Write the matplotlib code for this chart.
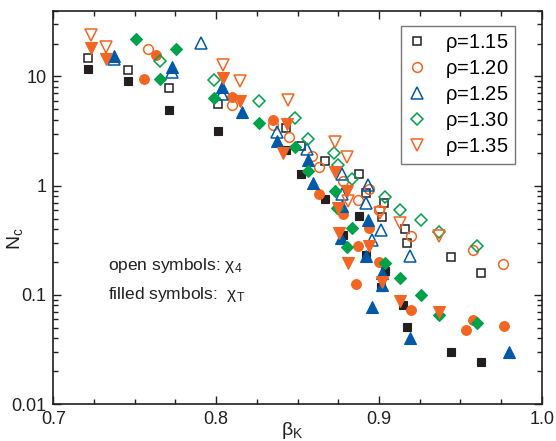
import numpy as np
import matplotlib
matplotlib.use("Agg")
import matplotlib.pyplot as plt
from matplotlib.ticker import MultipleLocator, LogLocator, NullFormatter

plt.rcParams['font.family'] = ['Liberation Sans', 'DejaVu Sans']
plt.rcParams['mathtext.default'] = 'regular'

# rho = 1.15 (black squares)
x115_open = [0.721, 0.746, 0.771, 0.801, 0.843, 0.852, 0.867, 0.888, 0.892, 0.902, 0.903, 0.916, 0.917, 0.944, 0.963]
y115_open = [14.9, 11.5, 7.9, 5.6, 3.4, 2.3, 1.67, 1.28, 0.85, 0.52, 0.70, 0.40, 0.30, 0.22, 0.16]
x115_fill = [0.721, 0.746, 0.771, 0.801, 0.843, 0.852, 0.867, 0.878, 0.888, 0.892, 0.904, 0.901, 0.915, 0.917, 0.944, 0.963]
y115_fill = [11.6, 9.06, 4.98, 3.15, 2.14, 1.28, 0.755, 0.355, 0.523, 0.233, 0.166, 0.117, 0.080, 0.051, 0.030, 0.024]

# rho = 1.20 (orange circles)
x120_open = [0.758, 0.810, 0.835, 0.845, 0.859, 0.863, 0.878, 0.887, 0.894, 0.900, 0.920, 0.958, 0.976]
y120_open = [17.7, 5.53, 3.63, 2.77, 1.86, 1.48, 1.11, 0.744, 0.938, 0.594, 0.348, 0.255, 0.191]
x120_fill = [0.756, 0.763, 0.810, 0.835, 0.863, 0.878, 0.887, 0.894, 0.900, 0.886, 0.920, 0.9535, 0.958, 0.977]
y120_fill = [9.38, 15.6, 6.46, 3.95, 0.83, 0.55, 0.28, 0.41, 0.20, 0.125, 0.073, 0.048, 0.059, 0.052]

# rho = 1.25 (blue up triangles)
x125_open = [0.7375, 0.7727, 0.791, 0.8034, 0.8372, 0.856, 0.8775, 0.8775, 0.8935, 0.892, 0.901, 0.896, 0.919]
y125_open = [14.5, 11.1, 20.4, 6.93, 3.08, 2.17, 1.28, 0.845, 1.02, 0.70, 0.395, 0.315, 0.228]
x125_fill = [0.7375, 0.7727, 0.8034, 0.8157, 0.8372, 0.8566, 0.8597, 0.8775, 0.8935, 0.877, 0.892, 0.902, 0.902, 0.896, 0.919, 0.980]
y125_fill = [15.4, 12.1, 7.98, 4.74, 2.55, 1.70, 1.06, 0.656, 0.488, 0.331, 0.225, 0.158, 0.124, 0.077, 0.040, 0.030]

# rho = 1.30 (green diamonds)
x130_open = [0.7655, 0.7987, 0.8265, 0.8485, 0.8566, 0.8726, 0.8751, 0.8837, 0.9037, 0.913, 0.9257, 0.9371, 0.960]
y130_open = [13.8, 9.19, 5.94, 4.12, 2.68, 2.0, 1.56, 1.15, 0.787, 0.60, 0.488, 0.373, 0.282]
x130_fill = [0.7509, 0.7655, 0.7754, 0.7987, 0.8265, 0.8485, 0.8566, 0.873, 0.874, 0.8837, 0.8802, 0.9038, 0.913, 0.9257, 0.9371, 0.960]
y130_fill = [22.2, 9.38, 17.9, 6.29, 3.71, 2.28, 1.37, 0.887, 0.63, 0.409, 0.277, 0.195, 0.142, 0.100, 0.0656, 0.0557]

# rho = 1.35 (orange down triangles)
x135_open = [0.7232, 0.7324, 0.804, 0.8147, 0.8444, 0.873, 0.8806, 0.8812, 0.9007, 0.913, 0.9371]
y135_open = [23.9, 18.6, 12.6, 9.06, 6.06, 2.50, 1.83, 0.728, 0.562, 0.454, 0.348]
x135_fill = [0.7232, 0.7324, 0.804, 0.8147, 0.8434, 0.8409, 0.873, 0.8802, 0.8751, 0.8757, 0.8941, 0.8812, 0.9017, 0.913, 0.9371]
y135_fill = [18.3, 14.5, 9.73, 5.94, 3.68, 2.0, 1.33, 0.887, 0.624, 0.368, 0.282, 0.195, 0.130, 0.0887, 0.0703]

labels = [r'$\rho$=1.15', r'$\rho$=1.20', r'$\rho$=1.25', r'$\rho$=1.30', r'$\rho$=1.35']

black = '#231f20'
orange = '#f26522'
blue = '#0059a8'
green = '#00a14b'

series = [
    (x115_open, y115_open, x115_fill, y115_fill, 's', 5.8, black),
    (x120_open, y120_open, x120_fill, y120_fill, 'o', 7.0, orange),
    (x125_open, y125_open, x125_fill, y125_fill, '^', 8.2, blue),
    (x130_open, y130_open, x130_fill, y130_fill, 'D', 6.3, green),
    (x135_open, y135_open, x135_fill, y135_fill, 'v', 8.2, orange),
]

fig = plt.figure(figsize=(5.56, 4.41), dpi=100)
ax = fig.add_axes([0.0959, 0.0839, 0.8784, 0.8918])

handles = []
for (xo, yo, xf, yf, m, ms, c), lab in zip(series, labels):
    ax.plot(xf, yf, ls='none', marker=m, ms=ms, mfc=c, mec=c, mew=0.8)
    h, = ax.plot(xo, yo, ls='none', marker=m, ms=ms, mfc='none', mec=c, mew=1.1, label=lab)
    handles.append(h)

ax.set_yscale('log')
ax.set_xlim(0.7, 1.0)
ax.set_ylim(0.01, 40)
ax.set_xticks([0.7, 0.8, 0.9, 1.0])
ax.set_xticklabels(['0.7', '0.8', '0.9', '1.0'])
ax.xaxis.set_minor_locator(MultipleLocator(0.025))
ax.set_yticks([0.01, 0.1, 1, 10])
ax.set_yticklabels(['0.01', '0.1', '1', '10'])
ax.yaxis.set_minor_locator(LogLocator(base=10, subs=np.arange(2, 10)))
ax.yaxis.set_minor_formatter(NullFormatter())

ax.tick_params(which='both', direction='in', top=True, right=True, labelsize=13, width=1.0, colors=black)
ax.tick_params(which='major', length=6, pad=5)
ax.tick_params(which='minor', length=3.5)
for s in ax.spines.values():
    s.set_linewidth(1.2)
    s.set_color(black)

ax.set_xlabel(r'$\beta_K$', fontsize=14, color=black)
ax.set_ylabel(r'N$_c$', fontsize=14, color=black)
ax.xaxis.set_label_coords(0.49, -0.04)
ax.yaxis.set_label_coords(-0.058, 0.42)

ax.text(0.112, 0.34, r'open symbols: $\chi_4$', transform=ax.transAxes, fontsize=12.5, color=black)
ax.text(0.112, 0.268, r'filled symbols:  $\chi_T$', transform=ax.transAxes, fontsize=12.5, color=black)

leg = ax.legend(handles=handles, loc='upper right', bbox_to_anchor=(0.945, 0.961), fontsize=14.5,
                frameon=True, fancybox=False, handlelength=1.0, handletextpad=0.9,
                labelspacing=0.2, borderpad=0.3, borderaxespad=0)
leg.get_frame().set_edgecolor('#555555')
leg.get_frame().set_linewidth(1.0)

fig.savefig('out.png', dpi=100)
